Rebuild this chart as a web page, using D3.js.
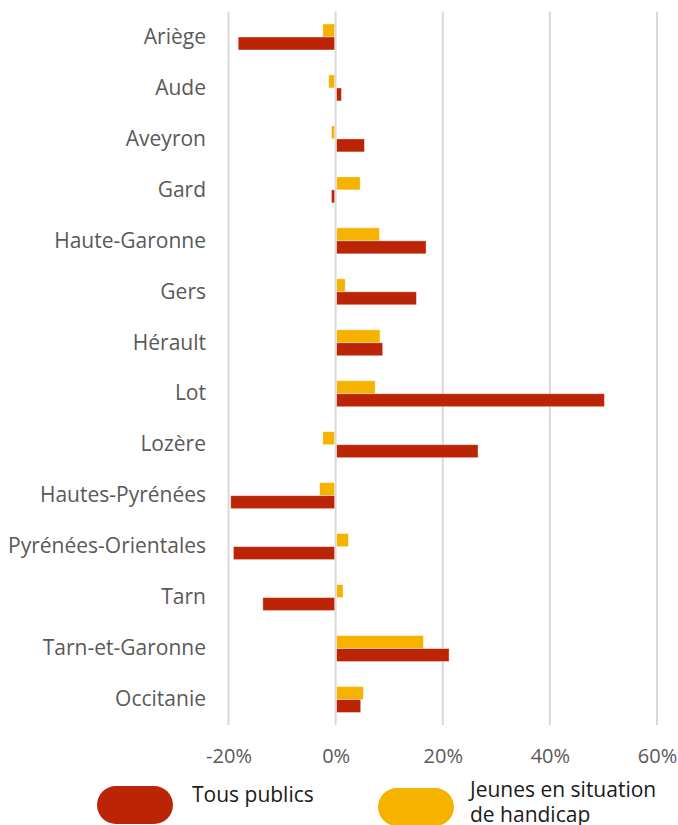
<!DOCTYPE html>
<html>
<head>
<meta charset="utf-8">
<script src="https://cdn.jsdelivr.net/npm/d3@7"></script>
<style>
  body { margin: 0; background: #fff; }
  svg { display: block; font-family: "Open Sans", sans-serif; }
</style>
</head>
<body>
<div id="chart"></div>
<script>
// départements, de haut en bas
const categories = ["Ariège", "Aude", "Aveyron", "Gard", "Haute-Garonne", "Gers", "Hérault",
    "Lot", "Lozère", "Hautes-Pyrénées", "Pyrénées-Orientales", "Tarn", "Tarn-et-Garonne", "Occitanie"];

// évolution en %
const tousPublics = [-18.0, 0.9, 5.2, -0.6, 16.7, 14.9, 8.6, 50.0, 26.4, -19.4, -18.9, -13.4, 21.0, 4.5];
const jeunesHandicap = [-2.2, -1.1, -0.6, 4.4, 8.0, 1.6, 8.1, 7.2, -2.2, -2.8, 2.2, 1.2, 16.2, 5.0];

const xTicks = [-20, 0, 20, 40, 60];

const series = [
    { name: "Jeunes en situation de handicap", values: jeunesHandicap, color: "#F5B300" },
    { name: "Tous publics", values: tousPublics, color: "#BC2406" }
];

const width = 678;
const height = 825;

const x = d3.scaleLinear().domain([-20, 60]).range([228.5, 657]);
const y = d3.scaleBand().domain(categories).range([11.5, 725]).paddingInner(0).paddingOuter(0);
const inner = d3.scaleBand().domain(series.map(s => s.name)).range([0, 26]);

const svg = d3.select("#chart").append("svg")
    .attr("width", width)
    .attr("height", height);

// grille verticale
svg.append("g")
    .selectAll("line")
    .data(xTicks)
    .enter()
    .append("line")
    .attr("x1", d => x(d))
    .attr("x2", d => x(d))
    .attr("y1", 11.5)
    .attr("y2", 725)
    .attr("stroke", "#d9d9d9")
    .attr("stroke-width", 2);

// barres
const groups = svg.append("g")
    .selectAll("g")
    .data(categories)
    .enter()
    .append("g")
    .attr("transform", d => `translate(0,${y(d) + y.bandwidth() / 2 - 13})`);

series.forEach(s => {
    groups.append("rect")
        .attr("x", (d, i) => Math.min(x(0), x(s.values[i])) + (s.values[i] >= 0 ? 1 : -1))
        .attr("y", inner(s.name))
        .attr("width", (d, i) => Math.abs(x(s.values[i]) - x(0)))
        .attr("height", inner.bandwidth())
        .attr("fill", s.color)
        .attr("stroke", "#fff")
        .attr("stroke-opacity", 0.5)
        .attr("stroke-width", 0.8);
});

// axe x
const xAxis = svg.append("g")
    .attr("transform", "translate(0,725)")
    .call(d3.axisBottom(x).tickValues(xTicks).tickFormat(d => d + "%").tickSize(0).tickPadding(24));
xAxis.select(".domain").remove();
xAxis.selectAll("text")
    .attr("font-size", 20)
    .attr("font-family", "Open Sans, sans-serif")
    .attr("fill", "#595959");

// axe y
const yAxis = svg.append("g")
    .attr("transform", "translate(206,0)")
    .call(d3.axisLeft(y).tickSize(0).tickPadding(0));
yAxis.select(".domain").remove();
yAxis.selectAll("text")
    .attr("font-size", 21)
    .attr("font-family", "Open Sans, sans-serif")
    .attr("fill", "#595959");

// légende
const legend = [
    { label: ["Tous publics"], color: "#BC2406", px: 97, py: 786, tx: 192, ty: 802 },
    { label: ["Jeunes en situation", "de handicap"], color: "#F5B300", px: 378, py: 788, tx: 470, ty: 797 }
];

const lg = svg.append("g")
    .selectAll("g")
    .data(legend)
    .enter()
    .append("g");

lg.append("rect")
    .attr("x", d => d.px)
    .attr("y", d => d.py)
    .attr("width", 76)
    .attr("height", 38)
    .attr("rx", 19)
    .attr("fill", d => d.color);

lg.append("text")
    .attr("x", d => d.tx)
    .attr("y", d => d.ty)
    .attr("font-size", 21)
    .attr("fill", "#1a1a1a")
    .selectAll("tspan")
    .data(d => d.label.map((t, i) => ({ t, i, x: d.tx })))
    .enter()
    .append("tspan")
    .attr("x", d => d.x)
    .attr("dy", d => d.i === 0 ? 0 : 25)
    .text(d => d.t);
</script>
</body>
</html>
